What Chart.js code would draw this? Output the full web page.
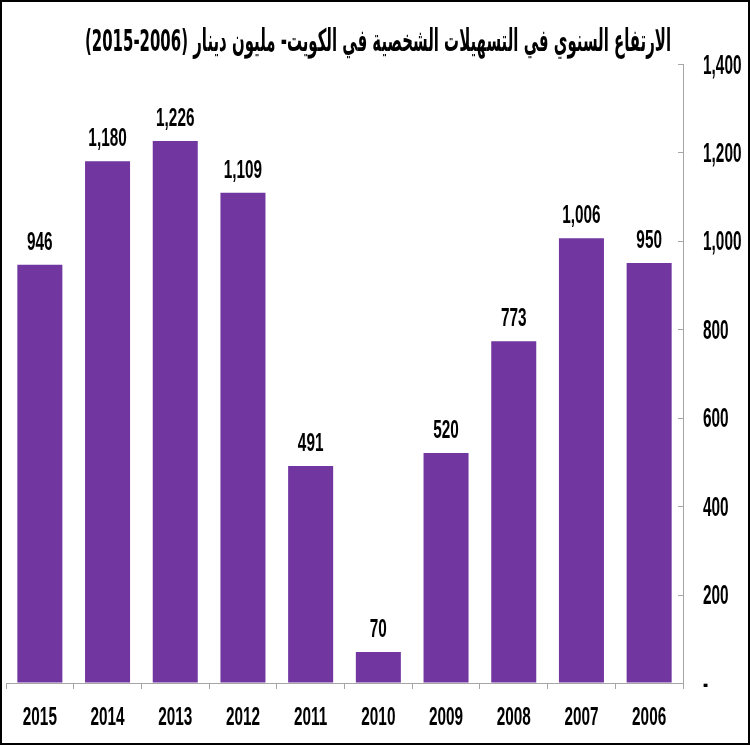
<!DOCTYPE html>
<html>
<head>
<meta charset="utf-8">
<script src="https://cdn.jsdelivr.net/npm/chart.js@4/dist/chart.umd.min.js"></script>
<style>
    html, body { margin: 0; padding: 0; background: #fff; }
    #wrap {
        width: 750px; height: 745px;
        box-sizing: border-box;
        border: 2px solid #000;
        background: #fff;
    }
</style>
</head>
<body>
<div id="wrap"><canvas id="chart" width="746" height="741"></canvas></div>
<script>
// Dados do gráfico (ordem como aparece, da esquerda para a direita)
const years = ['2015', '2014', '2013', '2012', '2011', '2010', '2009', '2008', '2007', '2006'];
const values = [946, 1180, 1226, 1109, 491, 70, 520, 773, 1006, 950];
const yTicks = [0, 200, 400, 600, 800, 1000, 1200, 1400];
const chartTitle = 'الارتفاع السنوي في التسهيلات الشخصية في الكويت- مليون دينار (2006-2015)';

const numFont = "'Liberation Sans', Arial, sans-serif";
const titleFont = "'DejaVu Sans', sans-serif";
const barColor = '#7136A0';
const axisColor = '#A6A6A6';

function fmt(v) {
    return v === 0 ? '-' : v.toLocaleString('en-US');
}

// Texto condensado (fonte estreita simulada com escala horizontal)
function narrowText(ctx, text, x, y, align, size, kx) {
    ctx.save();
    ctx.font = 'bold ' + size + 'px ' + numFont;
    ctx.fillStyle = '#000';
    ctx.textAlign = align;
    ctx.textBaseline = 'alphabetic';
    ctx.translate(x, y);
    ctx.scale(kx, 1);
    ctx.fillText(text, 0, 0);
    ctx.restore();
}

// Título, rótulos dos eixos e valores
const textLayer = {
    id: 'textLayer',
    afterDraw(chart) {
        const ctx = chart.ctx;
        const xs = chart.scales.x;
        const ys = chart.scales.y;
        const area = chart.chartArea;

        // título
        ctx.save();
        ctx.direction = 'rtl';
        ctx.font = 'bold 31px ' + titleFont;
        ctx.fillStyle = '#000';
        ctx.textAlign = 'center';
        ctx.textBaseline = 'alphabetic';
        const w = ctx.measureText(chartTitle).width;
        ctx.translate(376, 49);
        ctx.scale(586 / w, 1);
        ctx.fillText(chartTitle, 0, 0);
        ctx.restore();

        // valores acima das barras
        const meta = chart.getDatasetMeta(0);
        meta.data.forEach((bar, i) => {
            narrowText(ctx, fmt(values[i]), bar.x, bar.y - 15, 'center', 26, 0.59);
        });

        // rótulos do eixo X
        years.forEach((lab, i) => {
            narrowText(ctx, lab, xs.getPixelForTick(i), area.bottom + 42, 'center', 26, 0.59);
        });

        // rótulos do eixo Y
        yTicks.forEach(v => {
            const py = ys.getPixelForValue(v);
            narrowText(ctx, fmt(v), area.right + 20, py + 9.5, 'left', 27, 0.57);
        });

        // marcas do eixo Y voltadas para dentro
        ctx.save();
        ctx.strokeStyle = axisColor;
        ctx.lineWidth = 1;
        yTicks.forEach(v => {
            const py = Math.round(ys.getPixelForValue(v)) + 0.5;
            ctx.beginPath();
            ctx.moveTo(area.right - 5, py);
            ctx.lineTo(area.right, py);
            ctx.stroke();
        });
        ctx.restore();
    }
};

new Chart(document.getElementById('chart'), {
    type: 'bar',
    data: {
        labels: years,
        datasets: [{
            data: values,
            backgroundColor: barColor,
            borderWidth: 0,
            barPercentage: 0.665,
            categoryPercentage: 1
        }]
    },
    options: {
        responsive: false,
        animation: false,
        layout: { padding: { left: 4, right: 0, top: 62, bottom: 0 } },
        plugins: {
            legend: { display: false },
            tooltip: { enabled: false },
            title: { display: false }
        },
        scales: {
            x: {
                grid: {
                    display: true,
                    offset: true,
                    drawOnChartArea: false,
                    drawTicks: true,
                    tickLength: 6,
                    color: axisColor
                },
                border: { display: true, color: axisColor, width: 1 },
                ticks: { display: false },
                afterFit(scale) { scale.height = 60; }
            },
            y: {
                position: 'right',
                min: 0,
                max: 1400,
                afterBuildTicks(scale) {
                    scale.ticks = yTicks.map(v => ({ value: v }));
                },
                grid: {
                    display: true,
                    drawOnChartArea: false,
                    drawTicks: false,
                    color: axisColor
                },
                border: { display: true, color: axisColor, width: 1 },
                ticks: { display: false },
                afterFit(scale) { scale.width = 65; }
            }
        }
    },
    plugins: [textLayer]
});
</script>
</body>
</html>
